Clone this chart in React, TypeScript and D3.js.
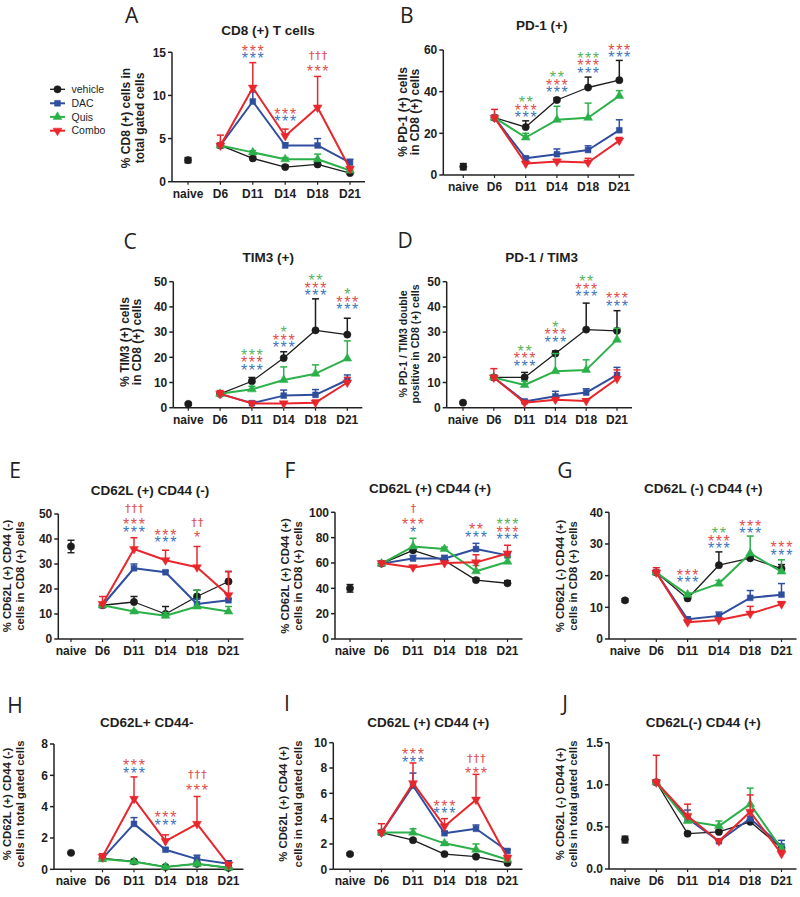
import React from "react";
import * as d3 from "d3";

const CATEGORIES = ["naive", "D6", "D11", "D14", "D18", "D21"];
const DAYS = CATEGORIES.slice(1);
const SERIES_NAMES = ["vehicle", "DAC", "Quis", "Combo"];
const SERIES_COLORS = ["#1c1c1c", "#2f4e9e", "#2cb04a", "#e8262c"];
const SERIES_SHAPES = ["circle", "square", "up", "down"];
const NOTE_COLORS: Record<string, string> = { g: "#5ab35c", r: "#df4f4f", b: "#3e77bb" };

// order of series in every array: vehicle, DAC, Quis, Combo ; values for D6..D21
// Panel A
const meansA = [[4.2, 2.7, 1.7, 2.0, 1.0], [4.2, 9.3, 4.2, 4.2, 2.2], [4.2, 3.4, 2.6, 2.6, 1.3], [4.2, 10.9, 5.3, 8.6, 1.5]];
const errA = [[0.2, 0.2, 0.2, 0.2, 0.1], [0.2, 1.1, 0.3, 0.8, 0.4], [0.2, 0.2, 0.2, 0.6, 0.1], [1.2, 2.9, 0.8, 3.6, 0.2]];
const naiveA = [2.5, 0.3];
const notesA = [
  { day: "D11", level: 14.7, rows: ["r***", "b***"] },
  { day: "D14", level: 7.4, rows: ["r***", "b***"] },
  { day: "D18", level: 13.2, rows: ["r†††", "r***"] },
];
// Panel B
const meansB = [[27.5, 23, 36, 42, 45.5], [27.5, 8, 10, 12, 21.5], [27.5, 18, 26.5, 27.5, 38], [27.5, 5.5, 6.5, 6, 16.5]];
const errB = [[1, 3, 1, 5, 9.5], [1, 1, 2.5, 2, 5], [1, 2, 6.5, 7, 2.5], [4, 0.5, 1, 2, 1.5]];
const naiveB = [4, 1.5];
const notesB = [
  { day: "D11", level: 29.3, rows: ["g**", "r***", "b***"] },
  { day: "D14", level: 41.3, rows: ["g**", "r***", "b***"] },
  { day: "D18", level: 50.7, rows: ["g***", "r***", "b***"] },
  { day: "D21", level: 58.1, rows: ["r***", "b***"] },
];
// Panel C
const meansC = [[5.5, 10.5, 19.7, 30.7, 29], [5.5, 1.8, 4.8, 5.1, 11], [5.5, 7.3, 11, 13.5, 19.5], [5.5, 1.7, 1.7, 2.0, 10]];
const errC = [[0.5, 1.5, 2.5, 12.5, 6.5], [0.5, 0.5, 2.2, 2.1, 2], [0.5, 1.2, 5.2, 3.5, 7], [1.3, 0.3, 0.3, 1, 2]];
const naiveC = [1.5, 0.5];
const notesC = [
  { day: "D11", level: 16.3, rows: ["g***", "r***", "b***"] },
  { day: "D14", level: 25.3, rows: ["g*", "r***", "b***"] },
  { day: "D18", level: 46, rows: ["g**", "r***", "b***"] },
  { day: "D21", level: 40.4, rows: ["g*", "r***", "b***"] },
];
// Panel D
const meansD = [[12, 12, 21.5, 31, 30.5], [12, 2.5, 4.5, 6, 13], [12, 9, 14.5, 15, 27], [12, 2, 3.2, 2.7, 11.5]];
const errD = [[0.5, 2, 1, 10.5, 8], [0.5, 0.5, 2, 1.5, 3], [0.5, 1.5, 7, 4, 4.5], [3.5, 0.3, 0.5, 0.8, 3.5]];
const naiveD = [2, 0.3];
const notesD = [
  { day: "D11", level: 17.9, rows: ["g**", "r***", "b***"] },
  { day: "D14", level: 27.5, rows: ["g*", "r***", "b***"] },
  { day: "D18", level: 45.6, rows: ["g**", "r***", "b***"] },
  { day: "D21", level: 41.8, rows: ["r***", "b***"] },
];
// Panel E
const meansE = [[13.5, 14.8, 10, 17, 23], [13.5, 28.3, 26.7, 14, 15.5], [13.5, 11, 9.3, 13, 11], [14, 36, 31.5, 28.7, 17.5]];
const errE = [[0.5, 2.2, 3, 2.5, 4], [0.5, 1.7, 0.5, 2, 0.5], [0.5, 0.5, 1.2, 6.5, 2], [3, 4.5, 4, 8.3, 9.5]];
const naiveE = [37, 2.5];
const notesE = [
  { day: "D11", level: 44.3, rows: ["r†††", "r***", "b***"] },
  { day: "D14", level: 40, rows: ["r***", "b***"] },
  { day: "D18", level: 42, rows: ["r††", "r*"] },
];
// Panel F
const meansF = [[59.5, 70, 62, 46.5, 44], [59.5, 63.5, 63.5, 71, 66], [59.5, 73, 71, 53.5, 61], [60, 56.5, 60, 60.5, 67.5]];
const errF = [[0.5, 1, 1, 1.5, 2], [0.5, 2.5, 2.5, 4.5, 2], [0.5, 6.5, 1.5, 4.5, 4], [1, 1.5, 0.5, 6, 6.5]];
const naiveF = [40, 3];
const notesF = [
  { day: "D11", level: 87.4, rows: ["r†", "r***", "b*"] },
  { day: "D18", level: 83.4, rows: ["r**", "b***"] },
  { day: "D21", level: 81.3, rows: ["g***", "r***", "b***"] },
];
// Panel G
const meansG = [[21, 12.8, 23.3, 25.5, 22.2], [21, 6.2, 7.3, 13, 14], [21, 14, 17.5, 27, 21.3], [21, 5.3, 6, 8, 11]];
const errG = [[0.5, 0.5, 4.2, 0.5, 1.3], [0.5, 0.8, 1.2, 2.3, 3.5], [0.5, 0.5, 1, 5.5, 3.7], [1.5, 0.3, 0.5, 2.3, 0.8]];
const naiveG = [12.2, 0.5];
const notesG = [
  { day: "D11", level: 18.9, rows: ["r***", "b***"] },
  { day: "D14", level: 29.7, rows: ["g**", "r***", "b***"] },
  { day: "D18", level: 34.4, rows: ["r***", "b***"] },
  { day: "D21", level: 27.6, rows: ["r***", "b***"] },
];
// Panel H
const meansH = [[0.7, 0.5, 0.15, 0.35, 0.1], [0.7, 2.9, 1.25, 0.65, 0.35], [0.65, 0.48, 0.15, 0.35, 0.1], [0.8, 4.5, 1.8, 2.9, 0.3]];
const errH = [[0.05, 0.05, 0.05, 0.05, 0.05], [0.05, 0.4, 0.1, 0.25, 0.2], [0.05, 0.05, 0.05, 0.1, 0.05], [0.2, 1.4, 0.4, 1.75, 0.1]];
const naiveH = [1.05, 0.05];
const notesH = [
  { day: "D11", level: 6.39, rows: ["r***", "b***"] },
  { day: "D14", level: 3.04, rows: ["r***", "b***"] },
  { day: "D18", level: 5.27, rows: ["r†††", "r***"] },
];
// Panel I
const meansI = [[2.9, 2.3, 1.2, 1.0, 0.5], [2.9, 6.6, 2.85, 3.2, 1.45], [2.9, 2.9, 2.05, 1.55, 0.75], [2.9, 6.8, 3.4, 5.5, 0.9]];
const errI = [[0.1, 0.1, 0.1, 0.1, 0.05], [0.1, 1.0, 0.15, 0.3, 0.1], [0.1, 0.3, 0.1, 0.45, 0.1], [0.7, 1.6, 0.6, 2.0, 0.2]];
const naiveI = [1.2, 0.1];
const notesI = [
  { day: "D11", level: 8.77, rows: ["r***", "b***"] },
  { day: "D14", level: 4.68, rows: ["r***", "b***"] },
  { day: "D18", level: 7.84, rows: ["r†††", "r***"] },
];
// Panel J
const meansJ = [[1.03, 0.42, 0.44, 0.56, 0.25], [1.03, 0.6, 0.33, 0.6, 0.27], [1.03, 0.57, 0.51, 0.77, 0.24], [1.03, 0.63, 0.33, 0.68, 0.18]];
const errJ = [[0.02, 0.02, 0.02, 0.03, 0.03], [0.02, 0.1, 0.02, 0.08, 0.07], [0.02, 0.05, 0.06, 0.19, 0.04], [0.32, 0.14, 0.02, 0.2, 0.04]];
const naiveJ = [0.35, 0.04];
const notesJ: { day: string; level: number; rows: string[] }[] = [];

const PANELS = [
  { letter: "A", title: "CD8 (+) T cells", ylab: ["% CD8 (+) cells in", "total gated cells"], ymax: 15, step: 5, dec: 0, means: meansA, errs: errA, naive: naiveA, notes: notesA,
    L: { ax: 172, y0: 181.7, yt: 52.3, nx: 188, st: 32.4, lx: 131.7, ly: 15, tx: 268, ty: 30, yl: [126, 140], ylc: 118, yls: 12 } },
  { letter: "B", title: "PD-1 (+)", ylab: ["% PD-1 (+) cells", "in CD8 (+) cells"], ymax: 60, step: 20, dec: 0, means: meansB, errs: errB, naive: naiveB, notes: notesB,
    L: { ax: 443.3, y0: 175, yt: 50, nx: 463.3, st: 31.2, lx: 406.7, ly: 15, tx: 541.7, ty: 25, yl: [403.3, 415], ylc: 112, yls: 12 } },
  { letter: "C", title: "TIM3 (+)", ylab: ["% TIM3 (+) cells", "in CD8 (+) cells"], ymax: 50, step: 10, dec: 0, means: meansC, errs: errC, naive: naiveC, notes: notesC,
    L: { ax: 173.3, y0: 407.7, yt: 281.7, nx: 188.3, st: 31.8, lx: 130, ly: 241.7, tx: 268.3, ty: 256.7, yl: [125, 136.7], ylc: 342, yls: 12 } },
  { letter: "D", title: "PD-1 / TIM3", ylab: ["% PD-1 / TIM3 double", "positive in CD8 (+) cells"], ymax: 50, step: 10, dec: 0, means: meansD, errs: errD, naive: naiveD, notes: notesD,
    L: { ax: 446.7, y0: 407.7, yt: 281.7, nx: 463, st: 30.8, lx: 405, ly: 240, tx: 541.7, ty: 256.7, yl: [403.3, 415], ylc: 344, yls: 10.6 } },
  { letter: "E", title: "CD62L (+) CD44 (-)", ylab: ["% CD62L (+) CD44 (-)", "cells in CD8 (+) cells"], ymax: 50, step: 10, dec: 0, means: meansE, errs: errE, naive: naiveE, notes: notesE,
    L: { ax: 58.3, y0: 639, yt: 514, nx: 71, st: 31.5, lx: 15, ly: 470, tx: 150, ty: 490, yl: [7.3, 20], ylc: 576, yls: 11.3 } },
  { letter: "F", title: "CD62L (+) CD44 (+)", ylab: ["% CD62L (+) CD44 (+)", "cells in CD8 (+) cells"], ymax: 100, step: 20, dec: 0, means: meansF, errs: errF, naive: naiveF, notes: notesF,
    L: { ax: 335, y0: 639, yt: 512.3, nx: 350, st: 31.5, lx: 290, ly: 470, tx: 430, ty: 488.3, yl: [285, 298.3], ylc: 576, yls: 11.3 } },
  { letter: "G", title: "CD62L (-) CD44 (+)", ylab: ["% CD62L (-) CD44 (+)", "cells in CD8 (+) cells"], ymax: 40, step: 10, dec: 0, means: meansG, errs: errG, naive: naiveG, notes: notesG,
    L: { ax: 609, y0: 639, yt: 512.3, nx: 625, st: 31.3, lx: 565, ly: 470, tx: 703.3, ty: 488.3, yl: [560, 573.3], ylc: 576, yls: 11.3 } },
  { letter: "H", title: "CD62L+ CD44-", ylab: ["% CD62L (+) CD44 (-)", "cells in total gated cells"], ymax: 8, step: 2, dec: 0, means: meansH, errs: errH, naive: naiveH, notes: notesH,
    L: { ax: 54, y0: 869.3, yt: 744, nx: 71, st: 31.5, lx: 15, ly: 705, tx: 146.7, ty: 721.7, yl: [7.3, 20], ylc: 804, yls: 11.3 } },
  { letter: "I", title: "CD62L (+) CD44 (+)", ylab: ["% CD62L (+) CD44 (+)", "cells in total gated cells"], ymax: 10, step: 2, dec: 0, means: meansI, errs: errI, naive: naiveI, notes: notesI,
    L: { ax: 333.3, y0: 869.3, yt: 742.7, nx: 350, st: 31.5, lx: 287, ly: 703, tx: 428.3, ty: 721.7, yl: [283.3, 298.3], ylc: 804, yls: 11.3 } },
  { letter: "J", title: "CD62L(-) CD44 (+)", ylab: ["% CD62L (-) CD44 (+)", "cells in total gated cells"], ymax: 1.5, step: 0.5, dec: 1, means: meansJ, errs: errJ, naive: naiveJ, notes: notesJ,
    L: { ax: 609, y0: 869, yt: 742.7, nx: 625, st: 31.3, lx: 565, ly: 703, tx: 703.3, ty: 721.7, yl: [560, 573.3], ylc: 804, yls: 11.3 } },
];

const FONT = "'Liberation Sans', Arial, Helvetica, sans-serif";
const TEXT = "#1e1e1e";

function markerPath(shape: string): string {
  if (shape === "circle") return d3.symbol(d3.symbolCircle, 42)()!;
  if (shape === "square") return d3.symbol(d3.symbolSquare, 34)()!;
  return d3.symbol(d3.symbolTriangle, 34)()!;
}

function Marker({ shape, x, y, color }: { shape: string; x: number; y: number; color: string }) {
  const rot = shape === "down" ? " rotate(180)" : "";
  return <path d={markerPath(shape)} transform={`translate(${x},${y})${rot}`} fill={color} stroke={color} strokeWidth={0.5} />;
}

function Panel({ p }: { p: (typeof PANELS)[number] }) {
  const L = p.L;
  const x = d3.scalePoint<string>().domain(CATEGORIES).range([L.nx, L.nx + 5 * L.st]);
  const y = d3.scaleLinear().domain([0, p.ymax]).range([L.y0, L.yt]);
  const ticks = d3.range(0, p.ymax + p.step / 2, p.step);
  const xEnd = (x("D21") as number) + 15;
  const line = d3
    .line<number>()
    .x((_, i) => x(DAYS[i]) as number)
    .y((d) => y(d));
  const fmt = d3.format(`.${p.dec}f`);
  const cap = 3.5;
  const nX = x("naive") as number;

  return (
    <g>
      {/* panel letter */}
      <text x={L.lx} y={L.ly + 7.5} textAnchor="middle" fontFamily="'Open Sans', 'DejaVu Sans', sans-serif" fontSize={21} fill="#222">
        {p.letter}
      </text>
      {/* title */}
      <text x={L.tx} y={L.ty + 5} textAnchor="middle" fontFamily={FONT} fontWeight="bold" fontSize={13.5} fill={TEXT}>
        {p.title}
      </text>
      {/* y label */}
      {p.ylab.map((t, i) => (
        <text key={i} transform={`translate(${L.yl[i] + 4},${L.ylc}) rotate(-90)`} textAnchor="middle" fontFamily={FONT} fontWeight="bold" fontSize={L.yls} fill={TEXT}>
          {t}
        </text>
      ))}
      {/* axes */}
      <line x1={L.ax} x2={L.ax} y1={L.y0} y2={L.yt} stroke="#222" strokeWidth={1.5} />
      <line x1={L.ax} x2={xEnd} y1={L.y0} y2={L.y0} stroke="#222" strokeWidth={1.5} />
      {ticks.map((t) => (
        <g key={t}>
          <line x1={L.ax - 4} x2={L.ax} y1={y(t)} y2={y(t)} stroke="#222" strokeWidth={1.5} />
          <text x={L.ax - 6} y={y(t) + 4.3} textAnchor="end" fontFamily={FONT} fontWeight="bold" fontSize={12} fill={TEXT}>
            {fmt(t)}
          </text>
        </g>
      ))}
      {CATEGORIES.map((c) => (
        <g key={c}>
          <line x1={x(c)} x2={x(c)} y1={L.y0} y2={L.y0 + 3} stroke="#222" strokeWidth={1.2} />
          <text x={x(c)} y={L.y0 + 16} textAnchor="middle" fontFamily={FONT} fontWeight="bold" fontSize={12} fill={TEXT}>
            {c}
          </text>
        </g>
      ))}
      {/* naive point */}
      <g stroke={SERIES_COLORS[0]} strokeWidth={1.4}>
        <line x1={nX} x2={nX} y1={y(p.naive[0] - p.naive[1])} y2={y(p.naive[0] + p.naive[1])} />
        <line x1={nX - cap} x2={nX + cap} y1={y(p.naive[0] + p.naive[1])} y2={y(p.naive[0] + p.naive[1])} />
        <line x1={nX - cap} x2={nX + cap} y1={y(p.naive[0] - p.naive[1])} y2={y(p.naive[0] - p.naive[1])} />
      </g>
      <Marker shape="circle" x={nX} y={y(p.naive[0])} color={SERIES_COLORS[0]} />
      {/* series */}
      {p.means.map((vals, si) => {
        const col = SERIES_COLORS[si];
        const errs = p.errs[si];
        return (
          <g key={si}>
            {vals.map((v, i) => {
              const cx = x(DAYS[i]) as number;
              const top = y(v + errs[i]);
              return (
                <g key={i} stroke={col} strokeWidth={1.5}>
                  <line x1={cx} x2={cx} y1={y(v)} y2={top} />
                  <line x1={cx - cap} x2={cx + cap} y1={top} y2={top} />
                </g>
              );
            })}
            <path d={line(vals)!} fill="none" stroke={col} strokeWidth={si === 0 ? 1.3 : 2} strokeLinejoin="round" />
            {vals.map((v, i) => (
              <Marker key={i} shape={SERIES_SHAPES[si]} x={x(DAYS[i]) as number} y={y(v)} color={col} />
            ))}
          </g>
        );
      })}
      {/* significance marks: one text element per stack, one tspan per row */}
      {p.notes.map((n, ni) => {
        const cx = x(n.day) as number;
        let cy = y(n.level);
        const rows = [...n.rows].reverse();
        const spans: React.ReactNode[] = [];
        rows.forEach((r, ri) => {
          const txt = r.slice(1);
          const dag = txt.startsWith("†");
          if (ri > 0) cy -= dag ? 12 : 7.5;
          const color = NOTE_COLORS[r[0]];
          spans.push(
            dag ? (
              <tspan key={ri} x={cx + 1} y={cy + 3.6} fontFamily="'DejaVu Sans', sans-serif" fontSize={10.5} letterSpacing={1.2} fill={color} stroke={color} strokeWidth={0.2}>
                {txt}
              </tspan>
            ) : (
              <tspan key={ri} x={cx + 0.8} y={cy + 9.3} fontSize={16} letterSpacing={1.6} fill={color}>
                {txt}
              </tspan>
            )
          );
        });
        return (
          <text key={ni} textAnchor="middle" fontFamily={FONT}>
            {spans.reverse()}
          </text>
        );
      })}
    </g>
  );
}

function Legend() {
  const rowsY = [89.3, 103.3, 116.9, 130.7];
  return (
    <g>
      {SERIES_NAMES.map((name, i) => (
        <g key={name}>
          <line x1={50} x2={65} y1={rowsY[i]} y2={rowsY[i]} stroke={SERIES_COLORS[i]} strokeWidth={i === 0 ? 1.3 : 2} />
          <Marker shape={SERIES_SHAPES[i]} x={57.5} y={rowsY[i]} color={SERIES_COLORS[i]} />
          <text x={71.5} y={rowsY[i] + 3.7} fontFamily={FONT} fontSize={10.5} fill={TEXT}>
            {name}
          </text>
        </g>
      ))}
    </g>
  );
}

export default function App() {
  return (
    <svg width={800} height={897} style={{ position: "absolute", left: 0, top: 0, background: "#fff" }}>
      <rect width={800} height={897} fill="#fff" />
      <Legend />
      {PANELS.map((p) => (
        <Panel key={p.letter} p={p} />
      ))}
    </svg>
  );
}
